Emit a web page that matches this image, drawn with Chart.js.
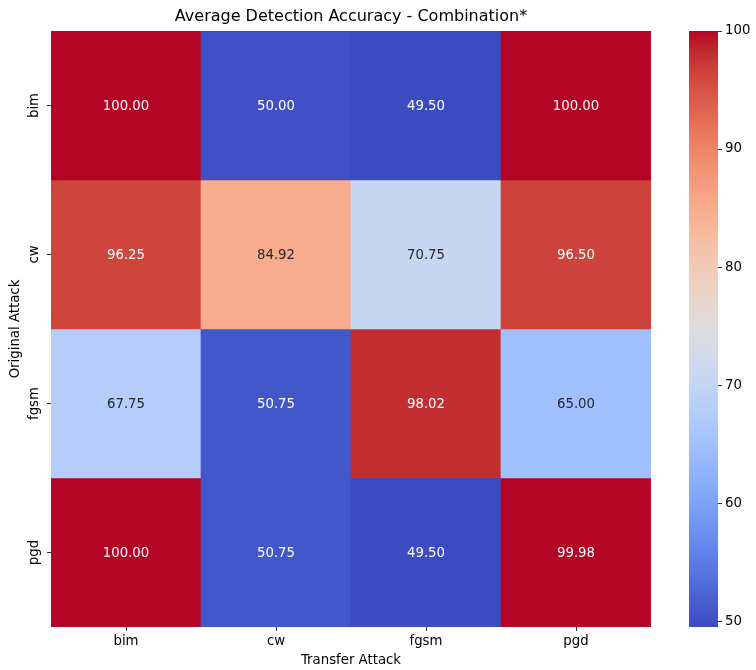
<!DOCTYPE html>
<html>
<head>
<meta charset="utf-8">
<script src="https://cdn.jsdelivr.net/npm/chart.js@4.4.1/dist/chart.umd.min.js"></script>
<style>
  body { margin: 0; background: #fff; }
  #wrap { position: relative; width: 756px; height: 670px; }
  #heat { position: absolute; left: 0; top: 0; }
  #cbar { position: absolute; left: 660px; top: 0; }
</style>
</head>
<body>
<div id="wrap">
  <canvas id="heat" width="672" height="670"></canvas>
  <canvas id="cbar" width="96" height="670"></canvas>
</div>
<script>
const rowLabels = ["bim", "cw", "fgsm", "pgd"];
const colLabels = ["bim", "cw", "fgsm", "pgd"];
const bimRow = [100.00, 50.00, 49.50, 100.00];
const cwRow = [96.25, 84.92, 70.75, 96.50];
const fgsmRow = [67.75, 50.75, 98.02, 65.00];
const pgdRow = [100.00, 50.75, 49.50, 99.98];
const rows = [bimRow, cwRow, fgsmRow, pgdRow];
const cbarTicks = [50, 60, 70, 80, 90, 100];
const vmin = 49.5, vmax = 100;

// coolwarm anchor colours
const cmap = [
  [59,76,192],[68,90,204],[77,104,215],[87,117,225],[98,130,234],[108,142,241],
  [119,154,247],[130,165,251],[141,176,254],[152,185,255],[163,194,255],[174,201,253],
  [184,208,249],[194,213,244],[204,217,238],[213,219,230],[221,221,221],[229,216,209],
  [236,211,197],[241,204,185],[245,196,173],[247,187,160],[247,177,148],[247,166,135],
  [244,154,123],[241,141,111],[236,127,99],[229,112,88],[222,96,77],[213,80,66],
  [203,62,56],[192,40,47],[180,4,38]
];

function colorAt(t) {
  t = Math.max(0, Math.min(1, t));
  const p = t * (cmap.length - 1);
  const i = Math.min(Math.floor(p), cmap.length - 2);
  const f = p - i;
  const a = cmap[i], b = cmap[i + 1];
  return a.map((c, k) => Math.round(c + (b[k] - c) * f));
}
const rgb = (c) => `rgb(${c[0]},${c[1]},${c[2]})`;
const valColor = (v) => colorAt((v - vmin) / (vmax - vmin));

function lum(c) {
  const l = c.map(x => {
    x = x / 255;
    return x <= 0.03928 ? x / 12.92 : Math.pow((x + 0.055) / 1.055, 2.4);
  });
  return 0.2126 * l[0] + 0.7152 * l[1] + 0.0722 * l[2];
}

const FONT = "'DejaVu Sans', sans-serif";
const FS = 13.3;
Chart.defaults.font.family = FONT;
Chart.defaults.color = "#000";

// widest y label, so the rotated labels can be centred at x = 35
const mctx = document.createElement("canvas").getContext("2d");
mctx.font = FS + "px " + FONT;
const widestY = Math.max(...rowLabels.map(l => mctx.measureText(l).width));

const datasets = rows.map((vals, r) => ({
  label: rowLabels[r],
  data: vals.map(() => [r, r + 1]),
  values: vals,
  backgroundColor: vals.map(v => rgb(valColor(v))),
  borderWidth: 0,
  grouped: false,
  barPercentage: 1,
  categoryPercentage: 1
}));

const cellText = {
  id: "cellText",
  afterDatasetsDraw(chart) {
    const ctx = chart.ctx;
    ctx.save();
    ctx.font = FS + "px " + FONT;
    ctx.textAlign = "center";
    ctx.textBaseline = "middle";
    chart.data.datasets.forEach((ds, i) => {
      chart.getDatasetMeta(i).data.forEach((el, j) => {
        const v = ds.values[j];
        ctx.fillStyle = lum(valColor(v)) < 0.408 ? "#fff" : "#262626";
        const p = el.getCenterPoint();
        ctx.fillText(v.toFixed(2), p.x, p.y + 1);
      });
    });
    ctx.restore();
  }
};

new Chart(document.getElementById("heat"), {
  type: "bar",
  data: { labels: colLabels, datasets: datasets },
  options: {
    responsive: false,
    animation: false,
    layout: { padding: { left: 0, right: 21, top: 0, bottom: 0 } },
    plugins: {
      legend: { display: false },
      tooltip: { enabled: false },
      title: {
        display: true,
        fullSize: false,
        text: "Average Detection Accuracy - Combination*",
        color: "#000",
        font: { size: 16, weight: "normal" },
        padding: { top: 7.4, bottom: 4.4 }
      }
    },
    scales: {
      x: {
        type: "category",
        offset: true,
        grid: { display: true, offset: false, drawOnChartArea: false, drawTicks: true, tickLength: 4, color: "#333" },
        border: { display: false },
        ticks: { font: { size: FS }, color: "#000", padding: 3 },
        title: { display: true, text: "Transfer Attack", font: { size: FS }, color: "#000", padding: { top: 2, bottom: 1 } },
        afterFit(s) { s.height = 43; }
      },
      y: {
        type: "linear",
        min: 0,
        max: 4,
        reverse: true,
        afterBuildTicks(s) { s.ticks = [0.5, 1.5, 2.5, 3.5].map(v => ({ value: v })); },
        grid: { display: true, drawOnChartArea: false, drawTicks: true, tickLength: 4, color: "#333" },
        border: { display: false },
        ticks: {
          font: { size: FS },
          color: "#000",
          crossAlign: "center",
          padding: 12 - widestY / 2,
          minRotation: 90,
          maxRotation: 90,
          callback: (v) => rowLabels[Math.floor(v)]
        },
        title: { display: true, text: "Original Attack", font: { size: FS }, color: "#000", padding: { top: 8, bottom: 4 } },
        afterFit(s) { s.width = 51; }
      }
    }
  },
  plugins: [cellText]
});

// colour bar
new Chart(document.getElementById("cbar"), {
  type: "bar",
  data: {
    labels: [""],
    datasets: [{
      data: [[vmin, vmax]],
      borderWidth: 0,
      barPercentage: 1,
      categoryPercentage: 1,
      backgroundColor(ctx) {
        const area = ctx.chart.chartArea;
        if (!area) return "#888";
        const y = ctx.chart.scales.y;
        const g = ctx.chart.ctx.createLinearGradient(0, y.getPixelForValue(vmin), 0, y.getPixelForValue(vmax));
        cmap.forEach((c, i) => g.addColorStop(i / (cmap.length - 1), rgb(c)));
        return g;
      }
    }]
  },
  options: {
    responsive: false,
    animation: false,
    layout: { padding: { left: 29, right: 0, top: 31, bottom: 43 } },
    plugins: { legend: { display: false }, tooltip: { enabled: false } },
    scales: {
      x: { display: false },
      y: {
        position: "right",
        min: vmin,
        max: vmax,
        afterBuildTicks(s) { s.ticks = cbarTicks.map(v => ({ value: v })); },
        grid: { display: true, drawOnChartArea: false, drawTicks: true, tickLength: 4, color: "#333" },
        border: { display: false },
        ticks: { font: { size: FS }, color: "#000", padding: 3 },
        afterFit(s) { s.width = 38; }
      }
    }
  }
});
</script>
</body>
</html>
